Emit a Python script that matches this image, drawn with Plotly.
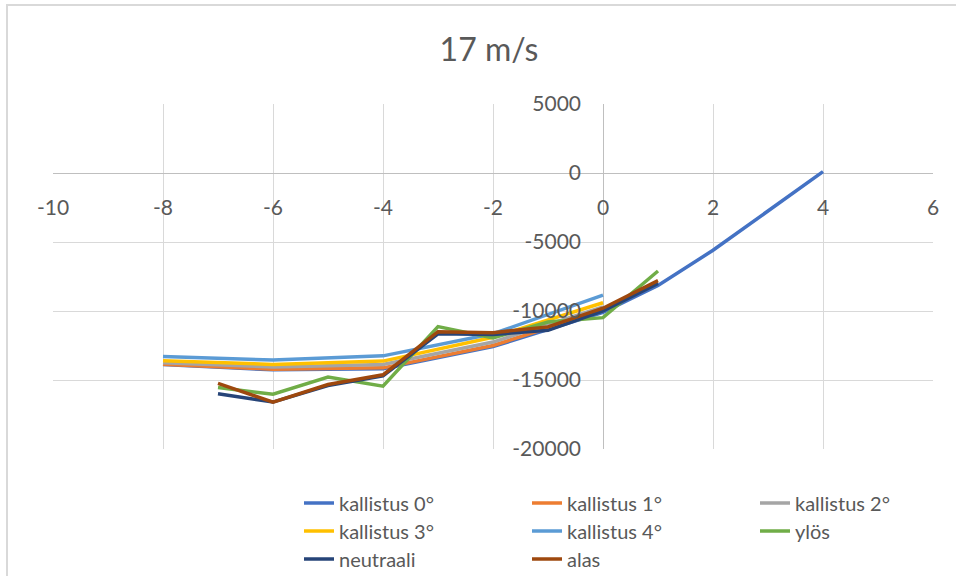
import plotly.graph_objects as go

# ---- data ----
x_k0 = [-8, -6, -4, -2, 0, 1, 2, 4]
k0 = [-13880, -14260, -14180, -12580, -10100, -8150, -5600, 100]
x_k = [-8, -6, -4, -2, 0]
k1 = [-13850, -14220, -14120, -12500, -9950]
k2 = [-13750, -14050, -13870, -12250, -9700]
k3 = [-13600, -13870, -13630, -11900, -9400]
k4 = [-13300, -13550, -13250, -11650, -8850]
x_m = [-7, -6, -5, -4, -3, -2, -1, 0, 1]
ylos = [-15550, -16030, -14780, -15450, -11130, -11950, -10800, -10480, -7100]
neutraali = [-16000, -16600, -15400, -14700, -11650, -11700, -11400, -10000, -8000]
alas = [-15250, -16600, -15330, -14620, -11500, -11570, -11150, -9800, -7800]

x_ticks = [-10, -8, -6, -4, -2, 0, 2, 4, 6]
x_ticktext = ["-10", "-8", "-6", "-4", "-2", "0", "2", "4", "6"]
y_ticks = [-20000, -15000, -10000, -5000, 0, 5000]
y_ticktext = ["-20000", "-15000", "-10000", "-5000", "0", "5000"]

title = "17 m/s"

series = [
    ("kallistus 0°", x_k0, k0, "#4472C4", "legend"),
    ("kallistus 1°", x_k, k1, "#ED7D31", "legend"),
    ("kallistus 2°", x_k, k2, "#A5A5A5", "legend"),
    ("kallistus 3°", x_k, k3, "#FFC000", "legend2"),
    ("kallistus 4°", x_k, k4, "#5B9BD5", "legend2"),
    ("ylös", x_m, ylos, "#70AD47", "legend2"),
    ("neutraali", x_m, neutraali, "#264478", "legend3"),
    ("alas", x_m, alas, "#9E480E", "legend3"),
]

FONT = "Lato"
TXT = "#595959"
GRID = "#d9d9d9"

fig = go.Figure()
for name, xs, ys, col, lg in series:
    fig.add_trace(go.Scatter(x=xs, y=ys, name=name, mode="lines",
                             legend=lg, line=dict(color=col, width=3.5)))

# plot-area pixel geometry
L, R, T, B = 53, 933, 104, 449
W, H = 956, 576

def px_x(p):
    return (p - L) / (R - L)

def px_y(p):
    return (B - p) / (B - T)

def leg(row_y):
    return dict(orientation="h", xref="container", yref="container",
                x=299 / W, xanchor="left", y=1 - row_y / H, yanchor="middle",
                entrywidth=183, entrywidthmode="pixels",
                bgcolor="rgba(0,0,0,0)", tracegroupgap=0, itemwidth=30,
                font=dict(size=20, color=TXT, family=FONT))

fig.update_layout(
    width=W, height=H, autosize=False,
    margin=dict(l=L, r=W - R, t=T, b=H - B, pad=0, autoexpand=False),
    paper_bgcolor="white", plot_bgcolor="white",
    font=dict(family=FONT, color=TXT, size=21),
    showlegend=True,
    legend=leg(503), legend2=leg(531), legend3=leg(559),
    title=dict(text=title, xref="container", yref="container",
               x=489 / W, xanchor="center", y=1 - 50 / H, yanchor="middle",
               font=dict(size=32, color=TXT, family=FONT)),
    xaxis=dict(range=[-10, 6], tickvals=x_ticks, ticktext=x_ticktext,
               showgrid=True, gridcolor=GRID, gridwidth=1,
               zeroline=True, zerolinecolor="#bfbfbf", zerolinewidth=1,
               showline=False, ticks="", anchor="free",
               position=px_y(172.7), ticklabelstandoff=20,
               tickfont=dict(size=21, color=TXT)),
    yaxis=dict(range=[-20000, 5000], tickvals=y_ticks, ticktext=y_ticktext,
               showgrid=True, gridcolor=GRID, gridwidth=1,
               zeroline=True, zerolinecolor="#bfbfbf", zerolinewidth=1,
               showline=False, ticks="", anchor="free",
               position=px_x(603), ticklabelstandoff=22,
               tickfont=dict(size=21, color=TXT)),
    shapes=[dict(type="rect", xref="paper", yref="paper",
                 x0=px_x(7), x1=px_x(1000), y0=px_y(640), y1=px_y(5),
                 line=dict(color="#d9d9d9", width=2), layer="below")],
)

fig.write_html(
    "out.html",
    config={"displayModeBar": False},
    post_script="document.body.style.margin='0';"
                "document.body.style.overflow='hidden';",
)
